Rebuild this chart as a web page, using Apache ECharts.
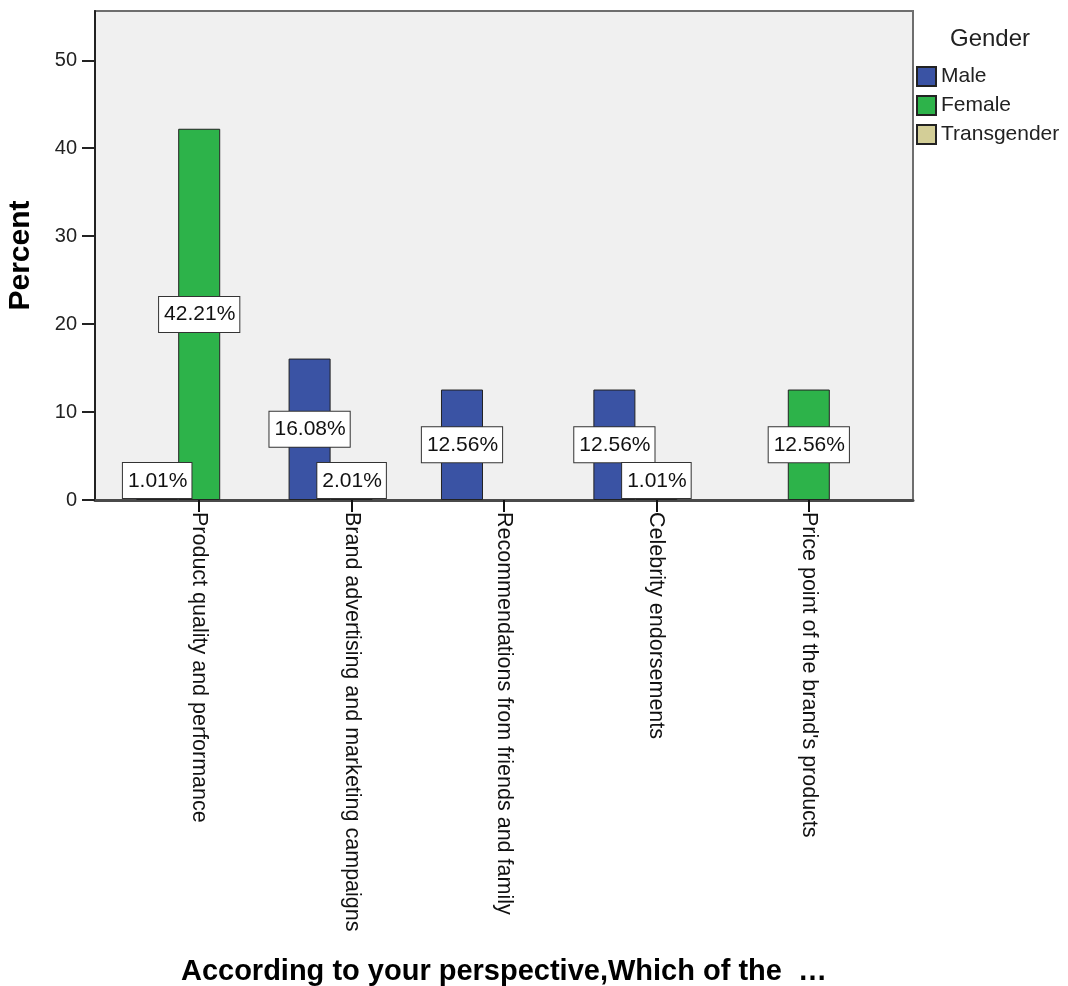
<!DOCTYPE html>
<html>
<head>
<meta charset="utf-8">
<script src="https://cdn.jsdelivr.net/npm/echarts@6/dist/echarts.min.js"></script>
<style>
  html, body { margin: 0; padding: 0; background: #fff; }
  #chart { width: 1068px; height: 986px; }
</style>
</head>
<body>
<div id="chart"></div>
<script>
// categories on the x axis
const categories = [
  'Product quality and performance',
  'Brand advertising and marketing campaigns',
  'Recommendations from friends and family',
  'Celebrity endorsements',
  "Price point of the brand's products"
]
// percent per gender (null = no bar in that cell)
const male = [1.01, 16.08, 12.56, 12.56, null]
const female = [42.21, 2.01, null, 1.01, 12.56]
const transgender = [null, null, null, null, null]
const yTicks = [0, 10, 20, 30, 40, 50]

const font = 'Liberation Sans, Arial, sans-serif'

// plot box (background) and the inner band where the categories sit
const plotLeft = 95
const plotRight = 913
const plotTop = 11
const plotBottom = 500
const pad = 28
const yMax = 55.6

function items(arr) {
  return arr.map(v => ({
    value: v,
    label: {
      show: v != null,
      // short bars: box sits on the axis instead of the bar middle
      position: v < 4 ? 'insideBottom' : 'inside',
      distance: 2
    }
  }))
}

const labelStyle = {
  formatter: p => p.value.toFixed(2) + '%',
  fontFamily: font,
  fontSize: 21,
  color: '#111',
  backgroundColor: '#fff',
  borderColor: '#333',
  borderWidth: 1,
  padding: [6, 4, 5, 5],
  lineHeight: 24
}

const chart = echarts.init(document.getElementById('chart'))
chart.setOption({
  animation: false,
  textStyle: { fontFamily: font },
  title: {
    text: 'Gender',
    left: 950,
    top: 27,
    padding: 0,
    textStyle: { fontFamily: font, fontSize: 24, fontWeight: 'normal', color: '#222' }
  },
  legend: {
    orient: 'vertical',
    left: 916,
    top: 66,
    padding: 0,
    itemWidth: 19,
    itemHeight: 19,
    itemGap: 8,
    icon: 'rect',
    textStyle: { fontFamily: font, fontSize: 21, color: '#222' },
    data: ['Male', 'Female', 'Transgender']
  },
  grid: [
    {
      left: plotLeft,
      right: 1068 - plotRight,
      top: plotTop,
      bottom: 986 - plotBottom,
      outerBoundsMode: 'none',
      show: true,
      backgroundColor: '#f0f0f0',
      borderColor: '#6e6e6e',
      borderWidth: 2
    },
    {
      left: plotLeft + pad,
      right: 1068 - plotRight + pad,
      top: plotTop,
      bottom: 986 - plotBottom,
      outerBoundsMode: 'none'
    }
  ],
  xAxis: [
    {
      gridIndex: 0,
      type: 'value',
      min: 0,
      max: 1,
      axisLine: { show: true, lineStyle: { color: '#4a4a4a', width: 3 } },
      axisTick: { show: false },
      axisLabel: { show: false },
      splitLine: { show: false },
      name: 'According to your perspective,Which of the  …',
      nameLocation: 'middle',
      nameGap: 457,
      nameTextStyle: { fontFamily: font, fontSize: 29, fontWeight: 'bold', color: '#000' }
    },
    {
      gridIndex: 1,
      type: 'category',
      data: categories,
      axisLine: { show: false },
      axisTick: { show: true, alignWithLabel: true, length: 12, lineStyle: { color: '#111', width: 2 } },
      axisLabel: {
        rotate: -90,
        interval: 0,
        margin: 12,
        fontFamily: font,
        fontSize: 21.5,
        color: '#111'
      }
    }
  ],
  yAxis: [
    {
      gridIndex: 0,
      type: 'value',
      min: 0,
      max: yMax,
      interval: 10,
      axisLine: { show: true, lineStyle: { color: '#222', width: 2 } },
      axisTick: { show: true, length: 13, lineStyle: { color: '#222', width: 2 }, customValues: yTicks },
      axisLabel: { margin: 18, fontFamily: font, fontSize: 20, color: '#222', customValues: yTicks },
      splitLine: { show: false },
      name: 'Percent',
      nameLocation: 'middle',
      nameGap: 59,
      nameTextStyle: { fontFamily: font, fontSize: 30, fontWeight: 'bold', color: '#000' }
    },
    {
      gridIndex: 1,
      type: 'value',
      min: 0,
      max: yMax,
      show: false,
      splitLine: { show: false }
    }
  ],
  series: [
    {
      name: 'Male',
      type: 'bar',
      xAxisIndex: 1,
      yAxisIndex: 1,
      data: items(male),
      barGap: '0%',
      barCategoryGap: '17.3%',
      itemStyle: { color: '#3a53a4', borderColor: '#222', borderWidth: 1 },
      label: labelStyle
    },
    {
      name: 'Female',
      type: 'bar',
      xAxisIndex: 1,
      yAxisIndex: 1,
      data: items(female),
      barGap: '0%',
      barCategoryGap: '17.3%',
      itemStyle: { color: '#2db34a', borderColor: '#222', borderWidth: 1 },
      label: labelStyle
    },
    {
      name: 'Transgender',
      type: 'bar',
      xAxisIndex: 1,
      yAxisIndex: 1,
      data: items(transgender),
      barGap: '0%',
      barCategoryGap: '17.3%',
      itemStyle: { color: '#d3ce97', borderColor: '#222', borderWidth: 1 },
      label: labelStyle
    }
  ]
})
</script>
</body>
</html>
